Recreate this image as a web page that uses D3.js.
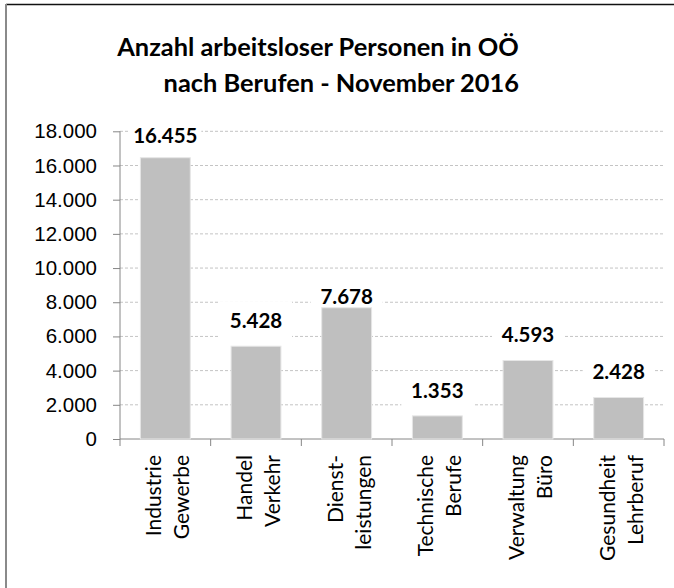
<!DOCTYPE html>
<meta charset="utf-8">
<style>
body { margin: 0; background: #fff; }
svg { display: block; font-family: Lato, "Open Sans", sans-serif; }
.axis path, .axis line { stroke: #868686; }
.axis text { font-size: 20.5px; fill: #000; }
.grid line { stroke: #c4c4c4; stroke-dasharray: 3,2; }
.value { font-size: 20.5px; font-weight: bold; }
.title { font-size: 25.4px; font-weight: bold; }
.cat { font-size: 21px; }
</style>
<body>
<script src="https://d3js.org/d3.v7.min.js"></script>
<script>
// data
var categories = [
  ["Industrie", "Gewerbe"],
  ["Handel", "Verkehr"],
  ["Dienst-", "leistungen"],
  ["Technische", "Berufe"],
  ["Verwaltung", "Büro"],
  ["Gesundheit", "Lehrberuf"]
];
var values = [16455, 5428, 7678, 1353, 4593, 2428];
var yTicks = [0, 2000, 4000, 6000, 8000, 10000, 12000, 14000, 16000, 18000];
var titleLines = ["Anzahl arbeitsloser Personen in OÖ", "nach Berufen - November 2016"];

var width = 674, height = 588;
var margin = {top: 131.3, right: 10, bottom: 149, left: 120};
var plotW = 664 - margin.left, plotH = 439 - margin.top;

// the label of the 3rd bar sits lower in the original (moved by hand there)
var labelNudge = {2: 14};

var fmt = d3.formatLocale({decimal: ",", thousands: ".", grouping: [3], currency: ["", ""]}).format(",d");

var svg = d3.select("body").append("svg")
    .attr("width", width)
    .attr("height", height);

// frame of the surrounding box
svg.append("line").attr("x1", 6).attr("x2", width).attr("y1", 4.5).attr("y2", 4.5)
    .attr("stroke", "#111").attr("stroke-width", 1.5);
svg.append("line").attr("x1", 6).attr("x2", 6).attr("y1", 4).attr("y2", height)
    .attr("stroke", "#8a8a8a").attr("stroke-width", 2);
// descender of a heading cut off above
svg.append("text").attr("x", 184).attr("y", -7).attr("font-size", 34).attr("font-weight", "bold").text("g");

// title
svg.append("text").attr("class", "title").attr("x", 318).attr("y", 56)
    .attr("text-anchor", "middle").text(titleLines[0]);
svg.append("text").attr("class", "title").attr("x", 519).attr("y", 92)
    .attr("text-anchor", "end").text(titleLines[1]);

var g = svg.append("g").attr("transform", "translate(" + margin.left + "," + margin.top + ")");

var x = d3.scaleBand().domain(d3.range(values.length)).range([0, plotW]).paddingInner(0.45).paddingOuter(0.225);
var xEdge = d3.scaleLinear().domain([0, values.length]).range([0, plotW]);
var y = d3.scaleLinear().domain([0, 18000]).range([plotH, 0]);

function labelY(d, i) {
  return Math.max(y(d) - 18, 12) + (labelNudge[i] || 0);
}

// grid
g.append("g").attr("class", "grid")
  .selectAll("line").data(yTicks.slice(1)).enter().append("line")
    .attr("x1", 0).attr("x2", plotW)
    .attr("y1", function(d) { return y(d); }).attr("y2", function(d) { return y(d); });

// white boxes behind the value labels (they hide the grid)
g.selectAll(".labbox").data(values).enter().append("rect")
    .attr("x", function(d, i) { return x(i) + x.bandwidth() / 2 - 36; })
    .attr("y", function(d, i) { return labelY(d, i) - 27; })
    .attr("width", 72).attr("height", 36).attr("fill", "#fff");

// y axis
g.append("g").attr("class", "axis")
    .call(d3.axisLeft(y).tickValues(yTicks).tickSize(7).tickPadding(16).tickFormat(fmt))
    .call(function(s) { s.select(".domain").attr("d", "M0," + plotH + "V0"); });

// x axis line + category ticks
var xa = g.append("g").attr("class", "axis").attr("transform", "translate(0," + plotH + ")");
xa.append("line").attr("x1", 0).attr("x2", plotW);
xa.selectAll(".tk").data(d3.range(values.length + 1)).enter().append("line")
    .attr("x1", function(d) { return xEdge(d); }).attr("x2", function(d) { return xEdge(d); })
    .attr("y1", 0).attr("y2", 7);

// bars
g.selectAll(".bar").data(values).enter().append("rect")
    .attr("x", function(d, i) { return x(i); })
    .attr("width", x.bandwidth())
    .attr("y", function(d) { return y(d); })
    .attr("height", function(d) { return plotH - y(d); })
    .attr("fill", "#bfbfbf")
    .attr("stroke", "#e6e6e6").attr("stroke-width", 1);

// value labels
g.selectAll(".value").data(values).enter().append("text")
    .attr("class", "value").attr("text-anchor", "middle")
    .attr("x", function(d, i) { return x(i) + x.bandwidth() / 2; })
    .attr("y", labelY)
    .text(function(d) { return fmt(d); });

// category labels, rotated, two lines
var cat = g.selectAll(".cat").data(categories).enter().append("g")
    .attr("transform", function(d, i) {
      return "translate(" + (x(i) + x.bandwidth() / 2) + "," + (plotH + 16) + ")";
    });
cat.each(function(d) {
  var c = d3.select(this);
  c.append("text").attr("class", "cat").attr("text-anchor", "end")
      .attr("transform", "translate(-4,0) rotate(-90)").text(d[0]);
  c.append("text").attr("class", "cat").attr("text-anchor", "end")
      .attr("transform", "translate(24,0) rotate(-90)").text(d[1]);
});
</script>
</body>
